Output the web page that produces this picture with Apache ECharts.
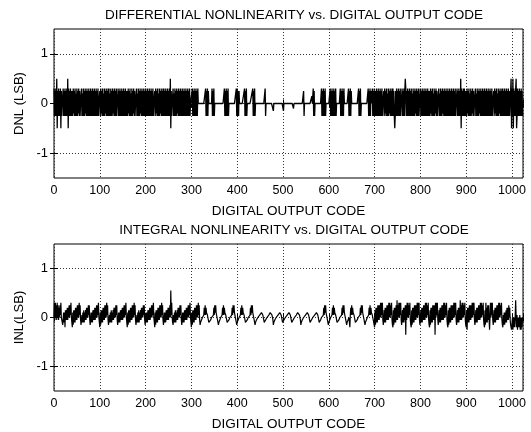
<!DOCTYPE html>
<html>
<head>
<meta charset="utf-8">
<script src="https://cdn.jsdelivr.net/npm/echarts@6.0.0/dist/echarts.min.js"></script>
<style>
  html, body { margin: 0; padding: 0; background: #fff; }
  #main { width: 531px; height: 432px; }
</style>
</head>
<body>
<div id="main"></div>
<script>
// level key: one letter per code, A = -0.5 ... K = 0 ... V = +0.55 (steps of 0.05 LSB)
var levelKey = "ABCDEFGHIJKLMNOPQRSTUV";

// x axis ticks
var codeTicks = [0, 100, 200, 300, 400, 500, 600, 700, 800, 900, 1000];
var lsbTicks = [-1, 0, 1];

// DNL, 20 codes per string
var dnlCodes = [
  "QFPFQFUAPFQFPFQAPFKK", "QFPFQFPFQFUAQFPFQFPF", "PFQGPFQFOFQFPGQFPFKK", "QFOFQFPFQGPFQFPFQFPF",
  "QFPFQFPFQFPFQFPFQFKK", "PFQGPFQFOFQFPGQFPFQF", "QFOFQFPFQGPFQFPFQFKK", "QFPFQFPFQFPFQFPFQFPF",
  "PFQGPFQFOFQFPGQFPFKK", "QFOFQFPFQGPFQFPFQFPF", "QFPFQFPFQFPFQFPFQFKK", "PFQGPFQFOFQFPGQFPFQF",
  "QFPFQFPFQFPFQFUAPFKK", "QFOFQFPFQGPFQFPFQFPF", "QFPFQFPFQFPFQFPFQFKK", "KKQFPFQFPFQFPFQKKKKK",
  "KKKKKKKKKKKQFPFQFPKK", "KKKKKQFPFQFKKKKKKKKK", "KKKKKKKKKKKKQFPFQFPF", "QFKKKKKKKKKKKKKKKKQF",
  "QFPFPKKKKKKKKKKKQFPF", "QFKKKKKKKKKKKKQFPFQF", "KKKKKKKKKKKKKKKKKKKK", "KQFKKKKKKKKKKKKKKKKH",
  "KKKKKKKKKKKKKKKKKKKK", "KHKKKKKKKKKKKKKKKKKK", "KKKIKKKKKKKKKKKKKKKK", "KKKKKPFKKKKKKKKKKKKK",
  "KKKNKKQFPFKKKKKKKKKK", "KKKKQFPFQFPFQFKKKKKK", "KKKQFPFQFPFQFPFQFKKK", "KKKKKQFPFQFPFQKKKKKK",
  "KKKQFPFQFPKKKKKKKKKK", "KKKKKQFPFQFKKKKKKKKK", "KKKKKKQFPFQFPKKQFPFQ", "QFPFQFPFQFPFQFPFQFKK",
  "PFQGPFQFOFQFPGQFPFQF", "QFPFAFPFQFPFQFPFQFKK", "QFPFQFPUQFPFQFPFQFPF", "QFOFQFPFQGPFQFPFQFKK",
  "QFPFQFPFQFPFQFPFQFPF", "PFQGPFQFOFQFPGQFPFKK", "QFOFQFPFQGPFQFPFQFPF", "QFPFQFPFQFPFQFPFQFKK",
  "QFPFQFPFUAQFPFQFQFPF", "PFQGPFQFOFQFPGQFPFKK", "QFOFQFPFQGPFQFPFQFPF", "QFPFQFPFQFPFQFPFQFKK",
  "PFQGPFQFOFQFPGQFPFQF", "QFPFQFPFQFPFQFPFKKUA", "QFUAQFPFQUAFQFPFQFPF", "QFPF"
];

// INL, 20 codes per string
var inlCodes = [
  "KQJQKPJQKPJOKPLQKJIH", "HMIMGNJNJOJOKPKPLQKI", "GMHNINIOJOJPKPKQLPJH", "HLIMINIMJNJOKOKPLPJH",
  "HMIMINJNJOJOKPKPLQKI", "GMHNINIOJOJPKPKQLPJH", "HLIMINIMJNJOKOKPLPJH", "HMIMINJNJOJOKPKPLQKI",
  "GMHNINIOJOJPKPKQLPJH", "HLIMINIMJNJOKOKPLPJH", "HMIMINJNJOJOKPKPLQKI", "GMHNINIOJOJPKPKQLPJH",
  "HMIMINJNJOJOKPKVLQKI", "HLIMINIMJNJOKOKPLPJH", "HMIMINJNJOJOKPKPLQKI", "GMHNINIOJOJPKPKQLPJH",
  "IIJJKKKLOLPLOMMLKJII", "IIJJKKKKLOLPMPMLKJIH", "IIJJKKKLOLPLOMMLKJII", "IIJJKKKKLOLPMPMLKJIH",
  "IIJJKKKLOLPLOMMLKJII", "IIJJKKKKLOLPMPMLKJIH", "IIJJJKKKKLLLLMMMLKJI", "IIJJJKKKKLLLMMMMLKJH",
  "IIJJJKKKKLLLLMMMLKJI", "IIJJJKKKKLLLLMMMLKJI", "IIJJJKKKKLLLMMMMLKJH", "IIJJJKKKKLLLLMMMLKJI",
  "IIJJJKKKKLLLLMMMLKJI", "IIJJKKKKLOLPMPMLKJIH", "IIJJKKKLOLPLOMMLKJII", "IIJJKKKKLOLPMPMLKJIH",
  "IIJJKKGLOLPLOMMLKJII", "IIJJKKKKLOLPMPMLKJIH", "IIJJKKKLOLPLOMMLKJII", "GNHOIOIPJPJPKQKQLQJH",
  "HNIOIOJPJPJQKQKPLQJH", "GNHOIOIPJRJPKQKQLQJH", "HNIOIOJPDPJQKQKPLQJH", "GNHOIOIPJPJPKQKQLQJH",
  "HNIOIOJPJPJQKQKPLQJH", "GNHOIOIPJPJPDQKQLQJH", "HNIOIOJPJPJQKQKPLQJH", "GNHOIOIPJPJPKQKQLQJH",
  "HNIOIOJRJPJQKQKPLQJH", "GNFOIOIPJPJPKQKQLQJH", "HNIOIOJPJPJQKQKPLQJH", "GNHQIOIPJPJFKQKQLQJH",
  "HNIOIOJPJPJQKQKPLQJH", "GLHMHMINIOJOJPKOJHGF", "FKFKGKGLRKGLFKGKGLFK", "FKGK"
];

function toPoints(codes) {
  var pts = [];
  var s = codes.join("");
  for (var i = 0; i < s.length; i++) {
    pts.push([i, levelKey.indexOf(s.charAt(i)) * 0.05 - 0.5]);
  }
  return pts;
}

var font = "Liberation Sans, Arial, Helvetica, sans-serif";
var dotted = { color: "#333", width: 1, type: [1, 2] };

function xAxes(g) {
  return [
    {
      type: "value", gridIndex: g, min: 0, max: 1024, interval: 100,
      axisLine: { show: false },
      axisTick: { inside: true, length: 4, lineStyle: { color: "#000" } },
      axisLabel: { color: "#000", fontSize: 12.5, fontFamily: font, margin: 6, customValues: codeTicks,
        formatter: function (v) { return String(v); } },
      splitLine: { show: true, lineStyle: dotted },
      name: "DIGITAL OUTPUT CODE", nameLocation: "middle", nameGap: 26,
      nameTextStyle: { color: "#000", fontSize: 13.5, fontFamily: font }
    },
    {
      type: "value", gridIndex: g, position: "top", min: 0, max: 1024, interval: 100,
      axisLine: { show: false },
      axisTick: { inside: true, length: 4, lineStyle: { color: "#000" } },
      axisLabel: { show: false }, splitLine: { show: false }
    }
  ];
}

function yAxes(g, name) {
  return [
    {
      type: "value", gridIndex: g, min: -1.5, max: 1.5,
      axisLine: { show: false },
      axisTick: { inside: true, length: 4, lineStyle: { color: "#000" }, customValues: lsbTicks },
      axisLabel: { color: "#000", fontSize: 13, fontFamily: font, margin: 6, customValues: lsbTicks },
      splitLine: { show: true, lineStyle: dotted },
      name: name, nameLocation: "middle", nameGap: 23,
      nameTextStyle: { color: "#000", fontSize: 13, fontFamily: font }
    },
    {
      type: "value", gridIndex: g, position: "right", min: -1.5, max: 1.5,
      axisLine: { show: false },
      axisTick: { inside: true, length: 4, lineStyle: { color: "#000" }, customValues: lsbTicks },
      axisLabel: { show: false }, splitLine: { show: false }
    }
  ];
}

var chart = echarts.init(document.getElementById("main"));
chart.setOption({
  animation: false,
  backgroundColor: "#fff",
  textStyle: { fontFamily: font },
  title: [
    { text: "DIFFERENTIAL NONLINEARITY vs. DIGITAL OUTPUT CODE", left: 289, top: 3, textAlign: "center",
      textStyle: { color: "#000", fontSize: 13.5, fontWeight: "normal", fontFamily: font } },
    { text: "INTEGRAL NONLINEARITY vs. DIGITAL OUTPUT CODE", left: 289, top: 218, textAlign: "center",
      textStyle: { color: "#000", fontSize: 13.5, fontWeight: "normal", fontFamily: font } }
  ],
  grid: [
    { left: 54, right: 8, top: 29, height: 149, show: true, borderColor: "#000", borderWidth: 1 },
    { left: 54, right: 8, top: 244, height: 149, show: true, borderColor: "#000", borderWidth: 1 }
  ],
  xAxis: xAxes(0).concat(xAxes(1)),
  yAxis: yAxes(0, "DNL (LSB)").concat(yAxes(1, "INL(LSB)")),
  series: [
    { type: "line", xAxisIndex: 0, yAxisIndex: 0, data: toPoints(dnlCodes), showSymbol: false,
      lineStyle: { color: "#000", width: 1.3 } },
    { type: "line", xAxisIndex: 2, yAxisIndex: 2, data: toPoints(inlCodes), showSymbol: false,
      lineStyle: { color: "#000", width: 1.2 } }
  ]
});
</script>
</body>
</html>
